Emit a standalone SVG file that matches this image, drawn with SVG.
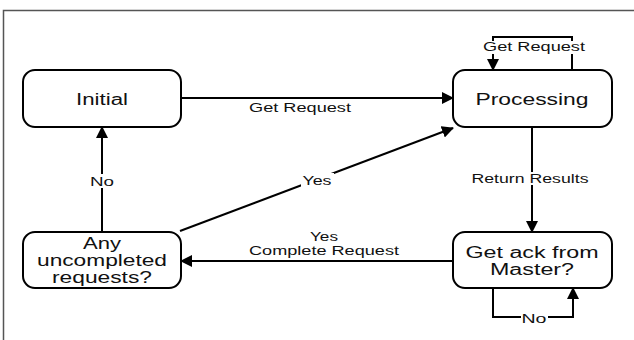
<svg xmlns="http://www.w3.org/2000/svg" width="634" height="340" viewBox="0 0 634 340">
  <defs>
    <marker id="arrow" markerUnits="userSpaceOnUse" markerWidth="12" markerHeight="12" refX="11" refY="6" orient="auto">
      <path d="M0,0 L12,6 L0,12 z" fill="#000"/>
    </marker>
    <style>
      .frame { stroke: #555; stroke-width: 1.5; fill: none; }
      .node rect { fill: #fff; stroke: #000; stroke-width: 2; }
      .node text { font-family: "Liberation Sans", Arial, sans-serif; font-size: 16px; fill: #111; text-anchor: middle; }
      .edge { stroke: #000; stroke-width: 2; fill: none; marker-end: url(#arrow); }
      .label { font-family: "Liberation Sans", Arial, sans-serif; font-size: 12px; fill: #111; text-anchor: middle; }
      .bg { fill: #fff; }
    </style>
  </defs>

  <rect width="634" height="340" fill="#fff"/>
  <!-- frame -->
  <path class="frame" d="M3.5,340 V10.5 H634"/>

  <!-- connectors -->
  <g id="connectors">
    <!-- Initial -> Processing -->
    <path class="edge" d="M181,98 H453"/>
    <text class="label" x="300" y="112" textLength="102" lengthAdjust="spacingAndGlyphs">Get Request</text>

    <!-- Processing self loop -->
    <path class="edge" d="M572,70 V37 H493 V70"/>
    <rect class="bg" x="482" y="41" width="104" height="13"/>
    <text class="label" x="534" y="51" textLength="102" lengthAdjust="spacingAndGlyphs">Get Request</text>

    <!-- Processing -> Get ack -->
    <path class="edge" d="M532,127 V232"/>
    <rect class="bg" x="470" y="172" width="120" height="13"/>
    <text class="label" x="530" y="183" textLength="117" lengthAdjust="spacingAndGlyphs">Return Results</text>

    <!-- Get ack self loop -->
    <path class="edge" d="M493,288 V317 H573 V288"/>
    <rect class="bg" x="521" y="312" width="27" height="13"/>
    <text class="label" x="534" y="323" textLength="25" lengthAdjust="spacingAndGlyphs">No</text>

    <!-- Get ack -> Any uncompleted -->
    <path class="edge" d="M453,261 H181"/>
    <text class="label" x="324" y="241" textLength="28" lengthAdjust="spacingAndGlyphs">Yes</text>
    <text class="label" x="324" y="255" textLength="150" lengthAdjust="spacingAndGlyphs">Complete Request</text>

    <!-- Any uncompleted -> Processing -->
    <path class="edge" d="M180,231 L453,128"/>
    <rect class="bg" x="301" y="173" width="33" height="14"/>
    <text class="label" x="317" y="185" textLength="29" lengthAdjust="spacingAndGlyphs">Yes</text>

    <!-- Any uncompleted -> Initial -->
    <path class="edge" d="M102,232 V127"/>
    <rect class="bg" x="89" y="174" width="27" height="14"/>
    <text class="label" x="102" y="186" textLength="24" lengthAdjust="spacingAndGlyphs">No</text>
  </g>

  <!-- nodes -->
  <g id="initial" class="node">
    <rect x="23" y="70" width="158" height="57" rx="12"/>
    <text x="102" y="105" textLength="52" lengthAdjust="spacingAndGlyphs">Initial</text>
  </g>
  <g id="processing" class="node">
    <rect x="453" y="70" width="159" height="57" rx="12"/>
    <text x="532" y="105" textLength="113" lengthAdjust="spacingAndGlyphs">Processing</text>
  </g>
  <g id="any-uncompleted" class="node">
    <rect x="23" y="232" width="158" height="56" rx="12"/>
    <text x="102" y="249" textLength="38" lengthAdjust="spacingAndGlyphs">Any</text>
    <text x="102" y="266" textLength="130" lengthAdjust="spacingAndGlyphs">uncompleted</text>
    <text x="102" y="283" textLength="100" lengthAdjust="spacingAndGlyphs">requests?</text>
  </g>
  <g id="get-ack" class="node">
    <rect x="453" y="232" width="159" height="56" rx="12"/>
    <text x="532" y="258" textLength="133" lengthAdjust="spacingAndGlyphs">Get ack from</text>
    <text x="532" y="275" textLength="84" lengthAdjust="spacingAndGlyphs">Master?</text>
  </g>
</svg>
